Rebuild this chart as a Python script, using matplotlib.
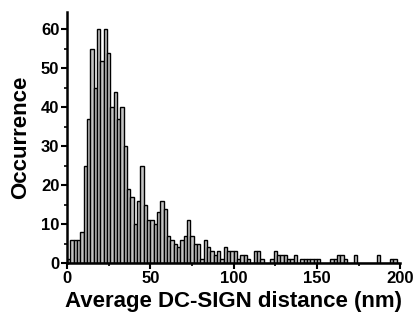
import numpy as np
import matplotlib
matplotlib.use('Agg')
import matplotlib.pyplot as plt
from matplotlib.ticker import MultipleLocator

# histogram of nearest-neighbour distances, 2 nm bins from 0 to 200 nm
bin_width = 2
bin_left = np.arange(0, 200, bin_width)
counts = [
    1, 6, 6, 6, 8, 25, 37, 55, 45, 60,      # 0-20
    52, 60, 54, 40, 44, 37, 40, 30, 19, 17,  # 20-40
    10, 16, 25, 15, 11, 11, 10, 13, 16, 14,  # 40-60
    7, 6, 5, 4, 6, 7, 11, 7, 5, 5,           # 60-80
    1, 6, 4, 3, 2, 3, 1, 4, 3, 3,            # 80-100
    3, 1, 2, 2, 1, 0, 3, 3, 1, 0,            # 100-120
    0, 1, 3, 2, 2, 2, 1, 1, 2, 0,            # 120-140
    1, 1, 1, 1, 1, 1, 0, 0, 0, 1,            # 140-160
    1, 2, 2, 1, 0, 0, 2, 0, 0, 0,            # 160-180
    0, 0, 0, 2, 0, 0, 0, 1, 1, 0,            # 180-200
]

plt.rcParams['font.family'] = 'Liberation Sans'
plt.rcParams['font.weight'] = 'bold'

fig = plt.figure(figsize=(4.19, 3.2), dpi=100)
ax = fig.add_axes([0.160, 0.178, 0.795, 0.785])

ax.bar(bin_left, counts, width=bin_width, align='edge',
       color='#c4c4c4', edgecolor='black', linewidth=1.0)

ax.set_xlim(0, 200)
ax.set_ylim(0, 64.5)
ax.xaxis.set_major_locator(MultipleLocator(50))
ax.xaxis.set_minor_locator(MultipleLocator(25))
ax.yaxis.set_major_locator(MultipleLocator(10))
ax.yaxis.set_minor_locator(MultipleLocator(5))

for side in ('top', 'right'):
    ax.spines[side].set_visible(False)
for side in ('left', 'bottom'):
    ax.spines[side].set_linewidth(1.8)

ax.tick_params(which='major', direction='out', length=4, width=1.5,
               labelsize=12, pad=1.5)
ax.tick_params(which='minor', direction='out', length=2.5, width=1.2)

ax.set_xlabel('Average DC-SIGN distance (nm)', fontsize=16, fontweight='bold',
              labelpad=4)
ax.set_ylabel('Occurrence', fontsize=16, fontweight='bold', labelpad=7)

fig.savefig('out.png', dpi=100)
